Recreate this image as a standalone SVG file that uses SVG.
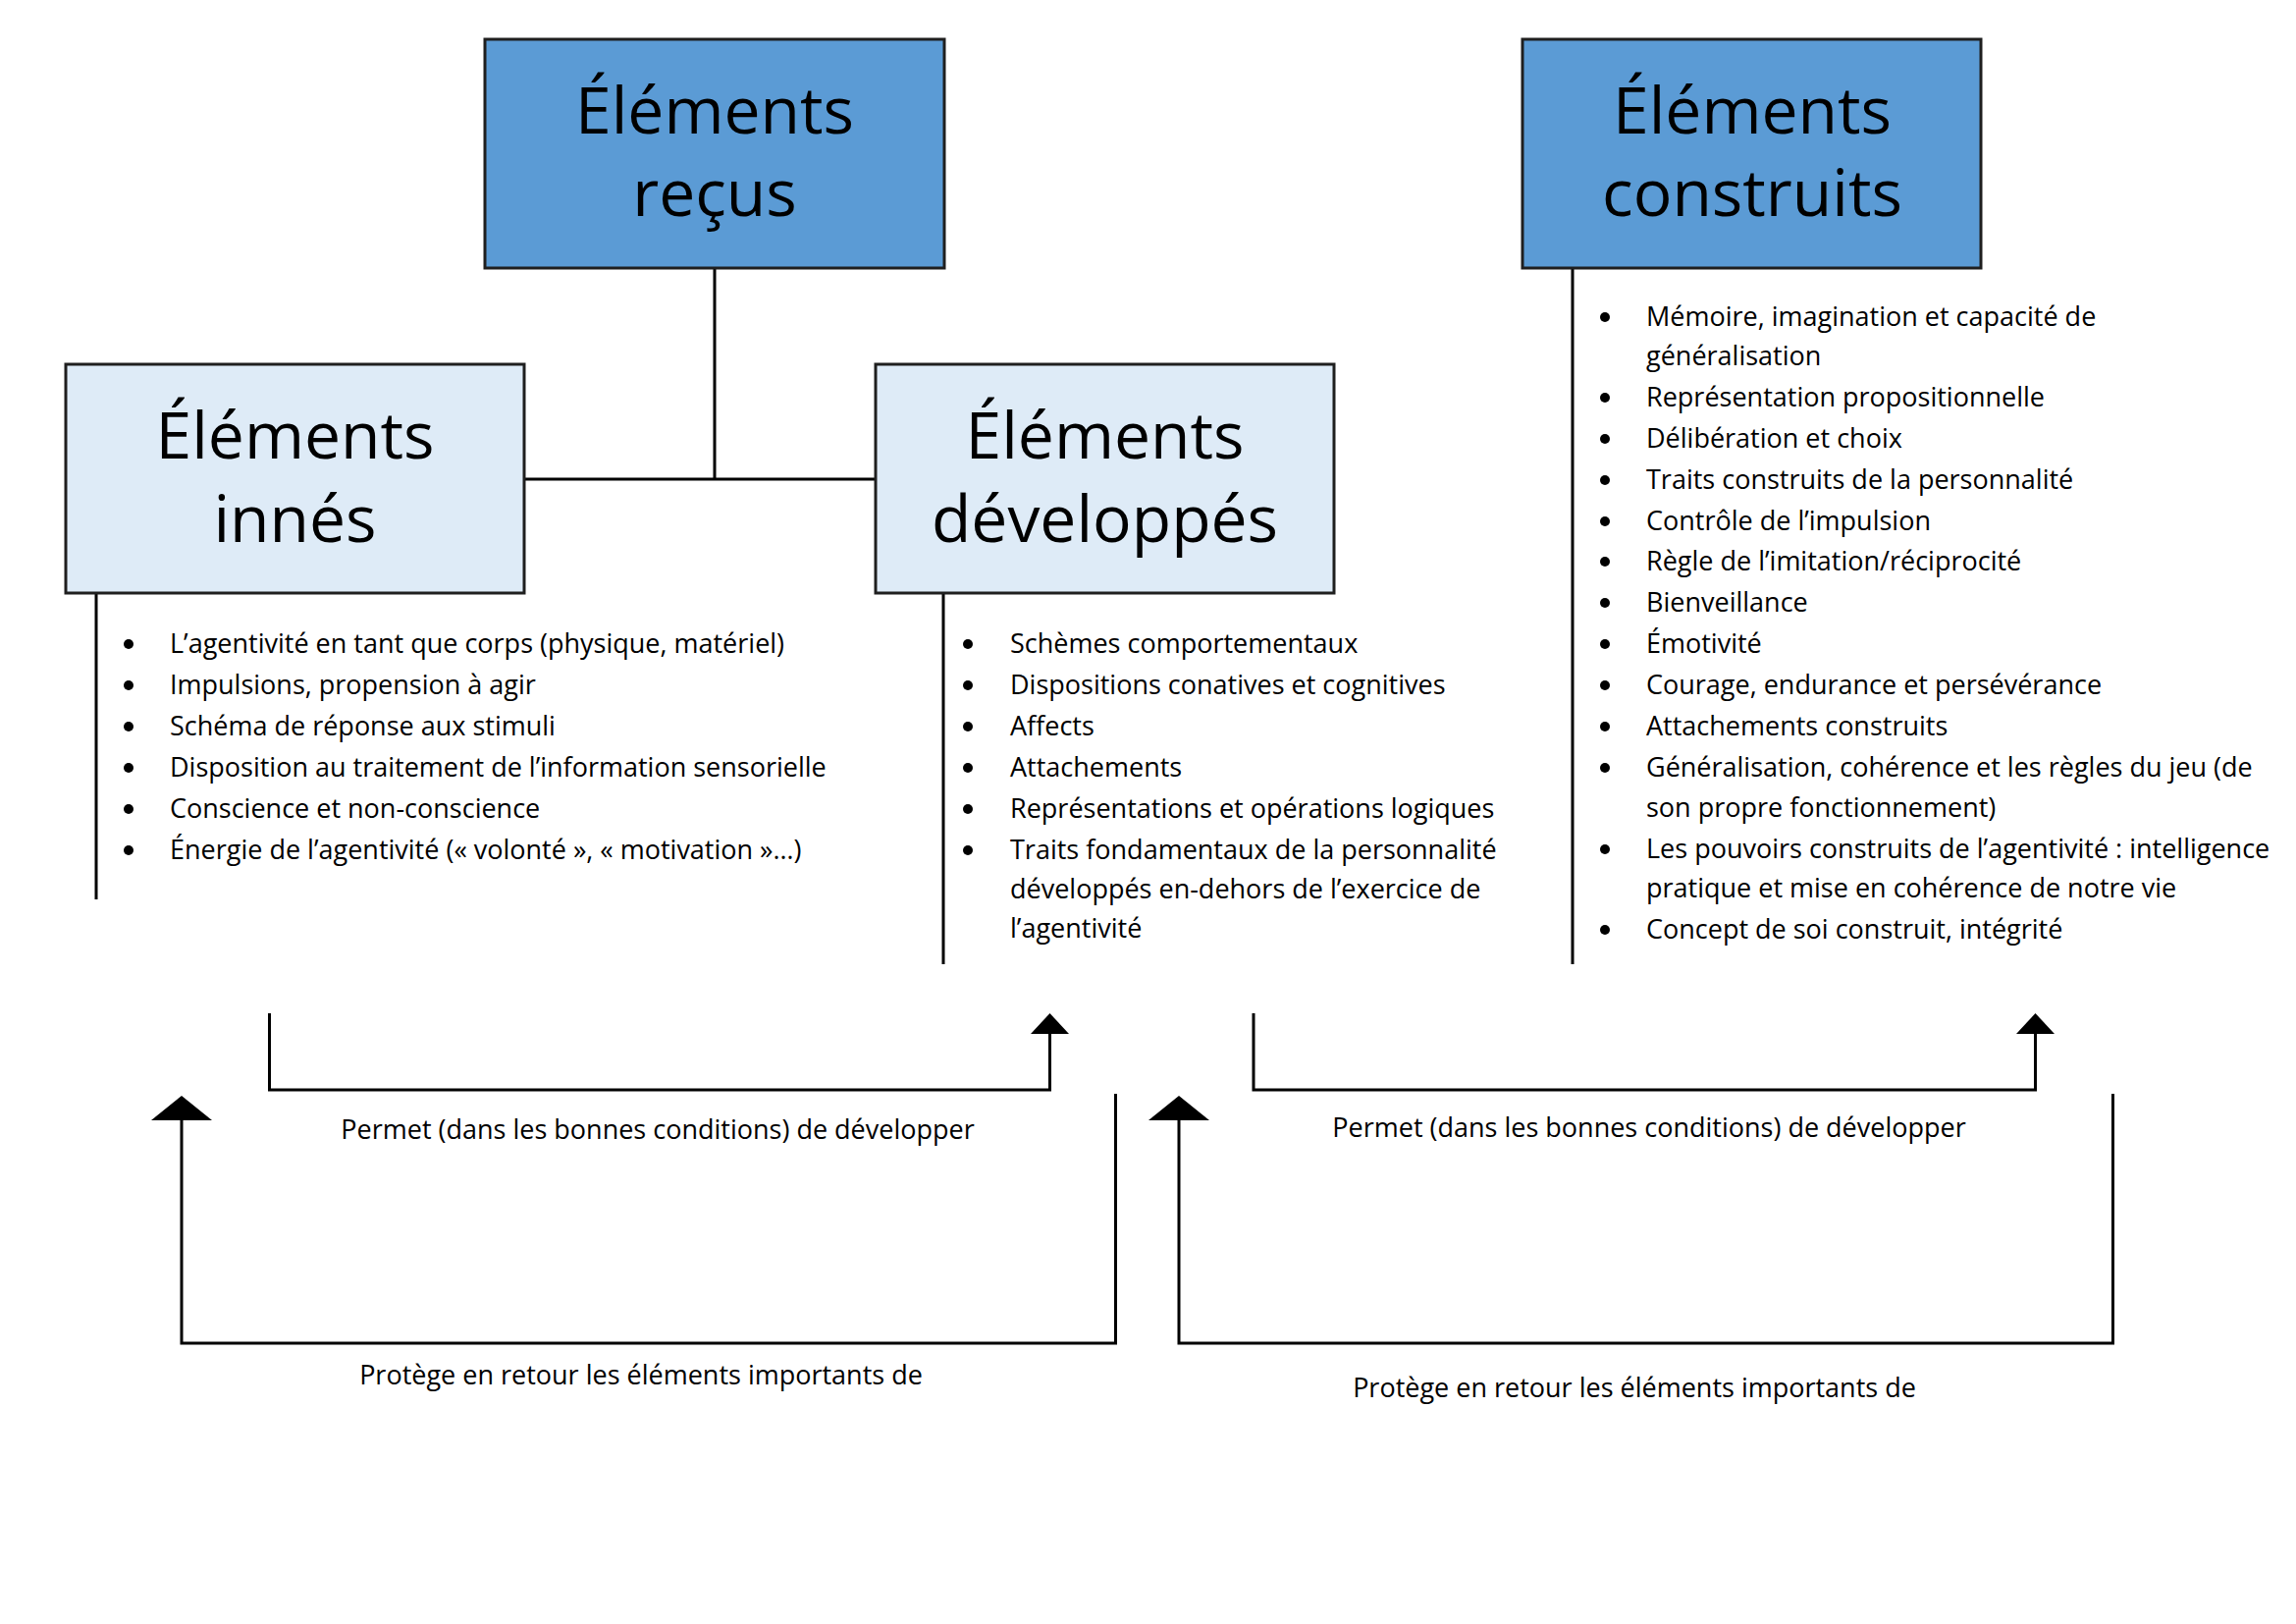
<svg xmlns="http://www.w3.org/2000/svg" width="2339" height="1654" viewBox="0 0 2339 1654">
<defs>
<style>
.box{stroke:#1f1f1f;stroke-width:3}
.dark{fill:#5B9BD5}
.light{fill:#DEEBF7}
.title{font-family:"Open Sans","Liberation Sans",sans-serif;font-size:66px;fill:#000;text-anchor:middle}
.li{font-family:"Open Sans","Liberation Sans",sans-serif;font-size:27px;fill:#000}
.lab{font-family:"Open Sans","Liberation Sans",sans-serif;font-size:27px;fill:#000;text-anchor:middle}
.ln{stroke:#000;stroke-width:3;fill:none}
.bul{fill:#000}
</style>
</defs>
<rect width="2339" height="1654" fill="#fff"/>

<g id="connectors">
<path class="ln" d="M728 273 V488 M534 488 H892"/>
<line class="ln" x1="98" y1="604" x2="98" y2="916"/>
<line class="ln" x1="961" y1="604" x2="961" y2="982"/>
<line class="ln" x1="1602" y1="273" x2="1602" y2="982"/>
<path class="ln" d="M274.5 1032 V1110 H1069.5 V1052"/>
<path d="M1050 1053 L1069.5 1032 L1089 1053 Z" fill="#000"/>
<path class="ln" d="M1136.5 1114 V1368 H185 V1138"/>
<path d="M154 1141 L185 1116 L216 1141 Z" fill="#000"/>
<path class="ln" d="M1277 1032 V1110 H2073.5 V1052"/>
<path d="M2054 1053 L2073.5 1032 L2093 1053 Z" fill="#000"/>
<path class="ln" d="M2152.5 1114 V1368 H1201 V1138"/>
<path d="M1170 1141 L1201 1116 L1232 1141 Z" fill="#000"/>
</g>

<g id="recus">
<rect class="box dark" x="494" y="40" width="468" height="233"/>
<text class="title" x="728" y="136">Éléments</text>
<text class="title" x="728" y="220">reçus</text>
</g>

<g id="construits">
<rect class="box dark" x="1551" y="40" width="467" height="233"/>
<text class="title" x="1785" y="136">Éléments</text>
<text class="title" x="1785" y="220">construits</text>
</g>

<g id="innes">
<rect class="box light" x="67" y="371" width="467" height="233"/>
<text class="title" x="300.5" y="467">Éléments</text>
<text class="title" x="300.5" y="552">innés</text>
</g>

<g id="developpes">
<rect class="box light" x="892" y="371" width="467" height="233"/>
<text class="title" x="1125.5" y="467">Éléments</text>
<text class="title" x="1125.5" y="552">développés</text>
</g>

<g id="liste-innes">
<circle class="bul" cx="131" cy="656" r="5"/><text class="li" x="173" y="665">L’agentivité en tant que corps (physique, matériel)</text>
<circle class="bul" cx="131" cy="698" r="5"/><text class="li" x="173" y="707">Impulsions, propension à agir</text>
<circle class="bul" cx="131" cy="740" r="5"/><text class="li" x="173" y="749">Schéma de réponse aux stimuli</text>
<circle class="bul" cx="131" cy="782" r="5"/><text class="li" x="173" y="791">Disposition au traitement de l’information sensorielle</text>
<circle class="bul" cx="131" cy="824" r="5"/><text class="li" x="173" y="833">Conscience et non-conscience</text>
<circle class="bul" cx="131" cy="866" r="5"/><text class="li" x="173" y="875">Énergie de l’agentivité (« volonté », « motivation »…)</text>
</g>

<g id="liste-developpes">
<circle class="bul" cx="986" cy="656" r="5"/><text class="li" x="1029" y="665">Schèmes comportementaux</text>
<circle class="bul" cx="986" cy="698" r="5"/><text class="li" x="1029" y="707">Dispositions conatives et cognitives</text>
<circle class="bul" cx="986" cy="740" r="5"/><text class="li" x="1029" y="749">Affects</text>
<circle class="bul" cx="986" cy="782" r="5"/><text class="li" x="1029" y="791">Attachements</text>
<circle class="bul" cx="986" cy="824" r="5"/><text class="li" x="1029" y="833">Représentations et opérations logiques</text>
<circle class="bul" cx="986" cy="866" r="5"/><text class="li" x="1029" y="875">Traits fondamentaux de la personnalité</text>
<text class="li" x="1029" y="915">développés en-dehors de l’exercice de</text>
<text class="li" x="1029" y="955">l’agentivité</text>
</g>

<g id="liste-construits">
<circle class="bul" cx="1635" cy="323" r="5"/><text class="li" x="1677" y="332">Mémoire, imagination et capacité de</text>
<text class="li" x="1677" y="372">généralisation</text>
<circle class="bul" cx="1635" cy="405" r="5"/><text class="li" x="1677" y="414">Représentation propositionnelle</text>
<circle class="bul" cx="1635" cy="447" r="5"/><text class="li" x="1677" y="456">Délibération et choix</text>
<circle class="bul" cx="1635" cy="489" r="5"/><text class="li" x="1677" y="498">Traits construits de la personnalité</text>
<circle class="bul" cx="1635" cy="531" r="5"/><text class="li" x="1677" y="540">Contrôle de l’impulsion</text>
<circle class="bul" cx="1635" cy="572" r="5"/><text class="li" x="1677" y="581">Règle de l’imitation/réciprocité</text>
<circle class="bul" cx="1635" cy="614" r="5"/><text class="li" x="1677" y="623">Bienveillance</text>
<circle class="bul" cx="1635" cy="656" r="5"/><text class="li" x="1677" y="665">Émotivité</text>
<circle class="bul" cx="1635" cy="698" r="5"/><text class="li" x="1677" y="707">Courage, endurance et persévérance</text>
<circle class="bul" cx="1635" cy="740" r="5"/><text class="li" x="1677" y="749">Attachements construits</text>
<circle class="bul" cx="1635" cy="782" r="5"/><text class="li" x="1677" y="791">Généralisation, cohérence et les règles du jeu (de</text>
<text class="li" x="1677" y="832">son propre fonctionnement)</text>
<circle class="bul" cx="1635" cy="865" r="5"/><text class="li" x="1677" y="874">Les pouvoirs construits de l’agentivité : intelligence</text>
<text class="li" x="1677" y="914">pratique et mise en cohérence de notre vie</text>
<circle class="bul" cx="1635" cy="947" r="5"/><text class="li" x="1677" y="956">Concept de soi construit, intégrité</text>
</g>

<g id="labels">
<text class="lab" x="670" y="1160">Permet (dans les bonnes conditions) de développer</text>
<text class="lab" x="653" y="1410">Protège en retour les éléments importants de</text>
<text class="lab" x="1680" y="1158">Permet (dans les bonnes conditions) de développer</text>
<text class="lab" x="1665" y="1423">Protège en retour les éléments importants de</text>
</g>
</svg>
